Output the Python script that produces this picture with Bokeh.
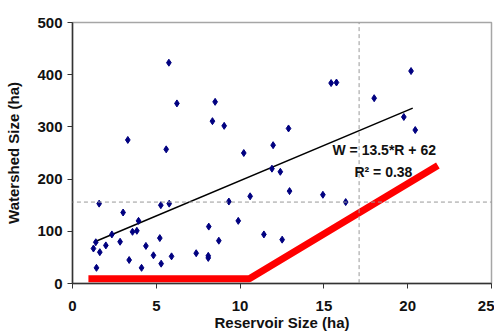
from bokeh.plotting import figure
from bokeh.models import FixedTicker, Arrow, Label
from bokeh.embed import file_html
from bokeh.resources import INLINE

# Reservoir size (ha) vs watershed size (ha)
reservoir = [1.59, 3.02, 3.94, 5.27, 5.77, 2.35, 1.39, 1.25, 1.63, 1.99,
             2.84, 3.58, 3.84, 4.38, 5.21, 3.38, 4.12, 4.83, 5.29, 5.91,
             1.43, 7.38, 11.9, 12.4, 12.95, 14.94, 10.6, 9.33, 9.89, 8.13,
             8.73, 11.42, 12.51, 8.1, 8.1, 16.3, 5.75, 6.23, 8.51, 8.35,
             3.30, 5.59, 9.05, 10.22, 11.97, 12.89, 15.43, 15.75, 20.2, 18.0,
             19.77, 20.45]
watershed = [153, 136, 120, 150, 153, 94, 79, 67, 60, 73,
             80, 99, 101, 72, 87, 45, 30, 54, 38, 52,
             30, 58, 220, 214, 177, 170, 167, 157, 120, 109,
             82, 94, 84, 53, 49, 156, 423, 345, 348, 311,
             275, 257, 302, 250, 265, 297, 384, 385, 407, 355,
             319, 294]

# Trend line W = 13.5*R + 62 (end points)
trend_x = [1.4, 20.3]
trend_y = [81, 336]

# Red threshold line
limit_x = [0.95, 10.55, 21.8]
limit_y = [9, 9, 226]

x_ticks = [0, 5, 10, 15, 20, 25]
y_ticks = [0, 100, 200, 300, 400, 500]
ref_reservoir = 17.1
ref_watershed = 156

FONT = "Liberation Sans"

p = figure(width=494, height=333, x_range=(0, 25), y_range=(0, 500),
           output_backend="svg", toolbar_location=None,
           min_border_left=72, min_border_right=3,
           min_border_top=22, min_border_bottom=46)
p.background_fill_color = "white"
p.border_fill_color = "white"
p.outline_line_color = "#a6a6a6"
p.outline_line_width = 1.5
p.xgrid.visible = False
p.ygrid.visible = False

for ax, ticks in ((p.xaxis[0], x_ticks), (p.yaxis[0], y_ticks)):
    ax.ticker = FixedTicker(ticks=ticks)
    ax.minor_tick_line_color = None
    ax.major_tick_in = 0
    ax.major_tick_out = 5
    ax.axis_line_color = "#333333"
    ax.axis_line_width = 1.5
    ax.major_tick_line_color = "#333333"
    ax.major_label_text_font = FONT
    ax.major_label_text_font_style = "bold"
    ax.major_label_text_font_size = "15px"
    ax.major_label_text_color = "#111111"
    ax.axis_label_text_font = FONT
    ax.axis_label_text_font_style = "bold"
    ax.axis_label_text_font_size = "15px"
    ax.axis_label_text_color = "#111111"

p.xaxis.axis_label = "Reservoir Size (ha)"
p.yaxis.axis_label = "Watershed Size (ha)"
p.xaxis.major_label_standoff = 12
p.xaxis.axis_label_standoff = 0
p.yaxis.major_label_standoff = 5
p.yaxis.axis_label_standoff = 12

# Reference dashed lines run across the whole picture
p.add_layout(Arrow(end=None, x_start=ref_reservoir, y_start=-120,
                   x_end=ref_reservoir, y_end=580,
                   line_color="#999999", line_dash="4 3", line_width=1))
p.add_layout(Arrow(end=None, x_start=-6, y_start=ref_watershed,
                   x_end=27, y_end=ref_watershed,
                   line_color="#999999", line_dash="4 3", line_width=1))

p.line(limit_x, limit_y, line_color="#ff0000", line_width=7)
p.line(trend_x, trend_y, line_color="black", line_width=1.5)
p.scatter(reservoir, watershed, marker="diamond", size=7,
          fill_color="#000080", line_color="#000080")

p.add_layout(Label(x=18.6, y=255, text="W = 13.5*R + 62",
                   text_align="center", text_baseline="middle",
                   text_font=FONT, text_font_style="bold",
                   text_font_size="14px", text_color="#111111"))
p.add_layout(Label(x=18.55, y=213, text="R\u00b2 = 0.38",
                   text_align="center", text_baseline="middle",
                   text_font=FONT, text_font_style="bold",
                   text_font_size="14px", text_color="#111111"))

open("out.html", "w").write(file_html(p, INLINE))
